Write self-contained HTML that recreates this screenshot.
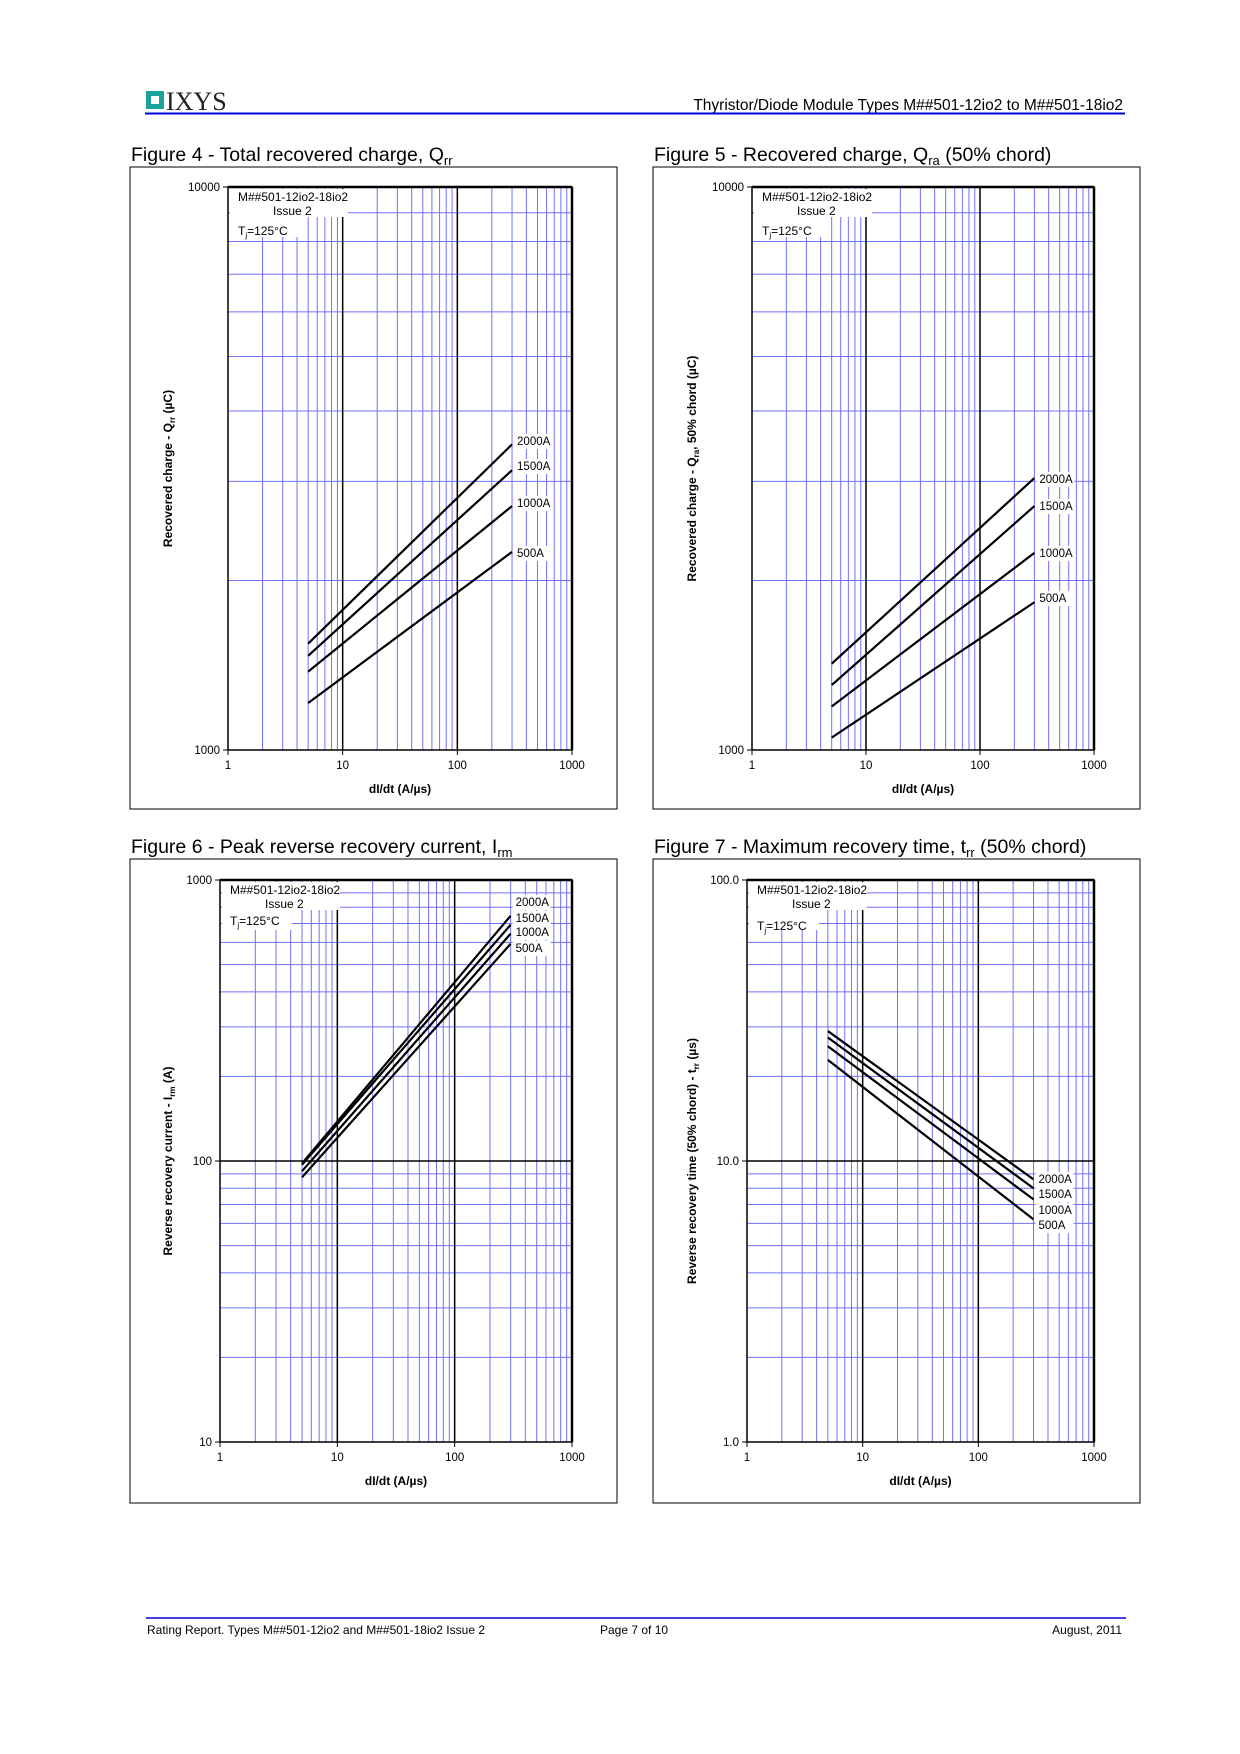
<!DOCTYPE html>
<html><head><meta charset="utf-8"><style>
html,body{margin:0;padding:0;background:#fff;}
svg{display:block;font-family:"Liberation Sans",Arial,sans-serif;}
</style></head><body>
<svg id="page" width="1240" height="1754" viewBox="0 0 1240 1754" xmlns="http://www.w3.org/2000/svg">
<g>
<rect x="146" y="91" width="18" height="18" fill="#1aa39a"/>
<rect x="151" y="96" width="8" height="8" fill="#fff"/>
<text x="166" y="110" font-family="Liberation Serif,serif" font-size="26" fill="#222">IXYS</text>
<text x="1123" y="110" text-anchor="end" font-size="15.5" fill="#000">Thyristor/Diode Module Types M##501-12io2 to M##501-18io2</text>
<line x1="145" y1="113.5" x2="1125" y2="113.5" stroke="#0000dd" stroke-width="2"/>
</g>
<g>
<line x1="146" y1="1618" x2="1126" y2="1618" stroke="#0000dd" stroke-width="1.5"/>
<text x="147" y="1634" font-size="12">Rating Report. Types M##501-12io2 and M##501-18io2 Issue 2</text>
<text x="600" y="1634" font-size="12">Page 7 of 10</text>
<text x="1122" y="1634" font-size="12" text-anchor="end">August, 2011</text>
</g>
</svg>
<script>
const xTicks = ["1","10","100","1000"];
const curveLabels = ["2000A","1500A","1000A","500A"];
const xStart = [5,5,5,5];
const xEnd = [300,300,300,300];
// Figure 4 Qrr
const f4Start = [1545,1470,1378,1212];
const f4End = [3490,3140,2712,2249];
// Figure 5 Qra
const f5Start = [1423,1304,1195,1052];
const f5End = [3041,2712,2239,1830];
// Figure 6 Irm
const f6Start = [98,97,92,87.5];
const f6End = [746,693,644,593];
// Figure 7 trr
const f7Start = [29,27.5,25.6,22.9];
const f7End = [8.6,8.0,7.3,6.2];
const f4YTicks = ["1000","10000"];
const f5YTicks = ["1000","10000"];
const f6YTicks = ["10","100","1000"];
const f7YTicks = ["1.0","10.0","100.0"];

const NS="http://www.w3.org/2000/svg";
const page=document.getElementById('page');
function mk(tag,attrs,parent,txt){const e=document.createElementNS(NS,tag);for(const k in attrs)e.setAttribute(k,attrs[k]);if(txt!==undefined)e.textContent=txt;parent.appendChild(e);return e;}

function chart(cfg){
  const g=mk('g',{},page);
  
  
  const L=cfg.px[0],R=cfg.px[1],T=cfg.py[0],B=cfg.py[1];
  const xmin=1,xmax=1000,ymin=cfg.ymin,ymax=cfg.ymax;
  const X=v=>L+(Math.log10(v)-Math.log10(xmin))/(Math.log10(xmax)-Math.log10(xmin))*(R-L);
  const Y=v=>B-(Math.log10(v)-Math.log10(ymin))/(Math.log10(ymax)-Math.log10(ymin))*(B-T);
  const box=mk('rect',{x:cfg.box[0],y:cfg.box[1],width:cfg.box[2],height:cfg.box[3],fill:'none',stroke:'#000','stroke-width':1},g);
  
  
  const title=mk('text',{x:cfg.box[0]+1,y:cfg.box[1]-6,'font-size':19.5},g);
  
  
  title.appendChild(document.createTextNode(cfg.title[0]));
  mk('tspan',{'font-size':13,dy:4},title,cfg.title[1]);
  mk('tspan',{dy:-4},title,cfg.title[2]||'');
  for(let d=1;d<1000;d*=10){for(let m=2;m<=9;m++){mk('line',{x1:X(d*m),x2:X(d*m),y1:T,y2:B,stroke:'#7070ff','stroke-width':1},g);}}
  for(let d=ymin;d<ymax-1e-9;d*=10){for(let m=2;m<=9;m++){mk('line',{x1:L,x2:R,y1:Y(d*m),y2:Y(d*m),stroke:'#7070ff','stroke-width':1},g);}}
  [10,100].forEach(v=>mk('line',{x1:X(v),x2:X(v),y1:T,y2:B,stroke:'#000','stroke-width':1.5},g));
  for(let d=ymin*10;d<ymax-1e-9;d*=10)mk('line',{x1:L,x2:R,y1:Y(d),y2:Y(d),stroke:'#000','stroke-width':1.5},g);
  mk('rect',{x:L,y:T,width:R-L,height:B-T,fill:'none',stroke:'#000','stroke-width':1.5},g);
  mk('line',{x1:L,x2:R,y1:T,y2:T,stroke:'#000','stroke-width':2.5},g);
  mk('line',{x1:R,x2:R,y1:T,y2:B,stroke:'#000','stroke-width':2.5},g);
  mk('rect',{x:L+2,y:T+2,width:118,height:28,fill:'#fff'},g);
  mk('rect',{x:L+2,y:T+30,width:70,height:20,fill:'#fff'},g);
  const info=mk('text',{x:L+10,y:T+14,'font-size':12},g,'M##501-12io2-18io2');
  
  
  mk('text',{x:L+45,y:T+28,'font-size':12},g,'Issue 2');
  const tj=mk('text',{x:L+10,y:T+cfg.tjy,'font-size':12},g,'T');
  
  
  mk('tspan',{'font-size':8,dy:3},tj,'j');
  mk('tspan',{dy:-3},tj,'=125\u00b0C');
  const yt=mk('g',{},g);
  
  
  cfg.yticks.forEach((t,i)=>{const v=ymin*Math.pow(10,i);mk('line',{x1:L-5,x2:L,y1:Y(v),y2:Y(v),stroke:'#000'},yt);mk('text',{x:L-8,y:Y(v)+4,'text-anchor':'end','font-size':11.5},yt,t);});
  const xt=mk('g',{},g);
  
  
  xTicks.forEach((t,i)=>{const v=Math.pow(10,i);mk('line',{x1:X(v),x2:X(v),y1:B,y2:B+5,stroke:'#000'},xt);mk('text',{x:X(v),y:B+19,'text-anchor':'middle','font-size':11.5},xt,t);});
  const xtl=mk('text',{x:(L+R)/2,y:B+43,'text-anchor':'middle','font-size':12,'font-weight':'bold'},g,'dI/dt (A/\u00b5s)');
  
  
  const cy=(T+B)/2;
  const ytl=mk('text',{x:0,y:0,transform:`translate(${cfg.ytx},${cy}) rotate(-90)`,'text-anchor':'middle','font-size':12,'font-weight':'bold'},g,cfg.ytitle[0]);
  
  
  mk('tspan',{'font-size':8,dy:3},ytl,cfg.ytitle[1]);
  mk('tspan',{dy:-3},ytl,cfg.ytitle[2]);
  cfg.s.forEach((sv,i)=>{
    const ln=mk('line',{x1:X(xStart[i]),y1:Y(sv),x2:X(xEnd[i]),y2:Y(cfg.e[i]),stroke:'#000','stroke-width':2.2},g);
    
    
    const ly=cfg.ly[i];
    mk('rect',{x:X(xEnd[i])+2,y:ly-11,width:38,height:15,fill:'#fff'},g);
    const lb=mk('text',{x:X(xEnd[i])+5,y:ly,'font-size':11.5},g,curveLabels[i]);
    
    
  });
}
chart({name:'figure-4-qrr-chart',box:[130,167,487,642],px:[228,572],py:[187,750],ymin:1000,ymax:10000,yticks:f4YTicks,s:f4Start,e:f4End,
  title:['Figure 4 - Total recovered charge, Q','rr',''],ytitle:['Recovered charge - Q','rr',' (\u00b5C)'],ytx:172,tjy:48,ly:[445,470,507,557]});
chart({name:'figure-5-qra-chart',box:[653,167,487,642],px:[752,1094],py:[187,750],ymin:1000,ymax:10000,yticks:f5YTicks,s:f5Start,e:f5End,
  title:['Figure 5 - Recovered charge, Q','ra',' (50% chord)'],ytitle:['Recovered charge - Q','ra',', 50% chord (\u00b5C)'],ytx:696,tjy:48,ly:[483,510,557,602]});
chart({name:'figure-6-irm-chart',box:[130,859,487,644],px:[220,572],py:[880,1442],ymin:10,ymax:1000,yticks:f6YTicks,s:f6Start,e:f6End,
  title:['Figure 6 - Peak reverse recovery current, I','rm',''],ytitle:['Reverse recovery current - I','rm',' (A)'],ytx:172,tjy:45,ly:[906,922,936,952]});
chart({name:'figure-7-trr-chart',box:[653,859,487,644],px:[747,1094],py:[880,1442],ymin:1,ymax:100,yticks:f7YTicks,s:f7Start,e:f7End,
  title:['Figure 7 - Maximum recovery time, t','rr',' (50% chord)'],ytitle:['Reverse recovery time (50% chord) - t','rr',' (\u00b5s)'],ytx:696,tjy:50,ly:[1183,1198,1214,1229]});
</script>
</body></html>
